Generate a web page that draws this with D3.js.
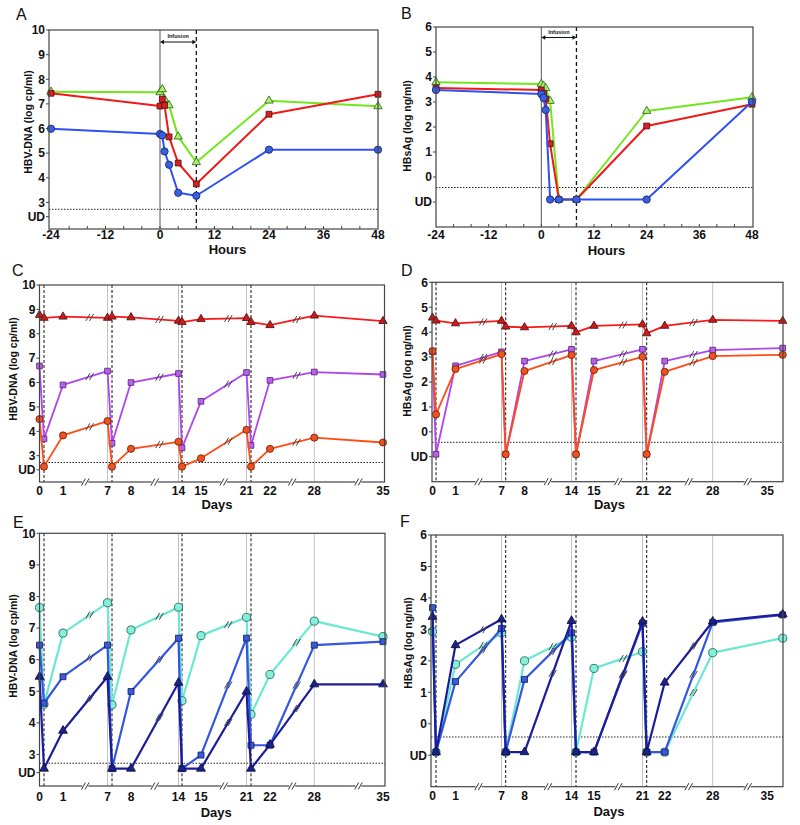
<!DOCTYPE html>
<html><head><meta charset="utf-8">
<script src="https://cdn.jsdelivr.net/npm/d3@7"></script>
<style>body{margin:0;background:#fff} svg{display:block} text{font-family:"Liberation Sans",Arial,sans-serif}</style>
</head><body><svg id="c" width="800" height="825"></svg>
<script>
// ---------------- data ----------------
const UD_DNA = 2.55, UD_HBS = -0.9;          // plotted level of undetectable samples
const LOD_DNA = 2.72, LOD_HBS = -0.42;       // detection limit (dotted line)
const UD_TICK_DNA = 2.42, UD_TICK_HBS = -1.0;

const hours = [-24, 0, 0.5, 1, 2, 4, 8, 24, 48];
const hourTicks = [-24, -12, 0, 12, 24, 36, 48];
const infusionHours = [0, 8];
const dnaTicks = [3, 4, 5, 6, 7, 8, 9, 10];
const hbsTicks = [0, 1, 2, 3, 4, 5, 6];

const aGreen = [7.49, 7.47, 7.59, 7.19, 6.94, 5.67, 4.63, 7.13, 6.90];
const aRed   = [7.43, 6.91, 7.19, 6.94, 5.66, 4.60, 3.75, 6.58, 7.39];
const aBlue  = [5.99, 5.78, 5.72, 5.07, 4.53, 3.39, 3.27, 5.14, 5.14];

const bGreen = [3.79, 3.72, 3.64, 3.55, 3.04, UD_HBS, UD_HBS, 2.64, 3.19];
const bRed   = [3.56, 3.48, 3.35, 3.12, 1.33, UD_HBS, UD_HBS, 2.04, 2.91];
const bBlue  = [3.48, 3.32, 3.17, 2.68, UD_HBS, UD_HBS, UD_HBS, UD_HBS, 3.01];

const third = 1 / 3;
const daysL = [0, third, 1, 7, 7 + third, 8, 14, 14 + third, 15, 21, 21 + third, 22, 28, 35];
const daysR = [0, third, 1, 7, 7 + third, 8, 14, 14 + third, 15, 21, 21 + third, 22, 28, 37];
const dayTicks = [0, 1, 7, 8, 14, 15, 21, 22, 28, 35];
const doseDays = [7, 14, 21, 28];
const endInfusionDays = [third, 7 + third, 14 + third, 21 + third];
const axisBreakDays = [4, 11, 18, 25, 32.5];

const cRed    = [8.77, 8.65, 8.70, 8.65, 8.70, 8.67, 8.53, 8.48, 8.60, 8.64, 8.48, 8.35, 8.74, 8.52];
const cPurple = [6.68, 3.69, 5.90, 6.47, 3.51, 6.00, 6.37, 3.32, 5.23, 6.41, 3.42, 6.09, 6.43, 6.33];
const cOrange = [4.50, UD_DNA, 3.83, 4.42, UD_DNA, 3.28, 3.57, UD_DNA, 2.89, 4.06, UD_DNA, 3.28, 3.74, 3.54];

const dRed    = [4.58, 4.46, 4.35, 4.45, 4.22, 4.19, 4.25, 3.99, 4.25, 4.31, 3.95, 4.25, 4.49, 4.45];
const dPurple = [3.22, UD_HBS, 2.65, 3.21, UD_HBS, 2.84, 3.31, UD_HBS, 2.84, 3.31, UD_HBS, 2.84, 3.28, 3.36];
const dOrange = [3.24, 0.70, 2.52, 3.12, UD_HBS, 2.44, 3.08, UD_HBS, 2.48, 3.01, UD_HBS, 2.41, 3.04, 3.09];

const eCyan = [7.65, 4.59, 6.84, 7.80, 4.57, 6.94, 7.66, 4.70, 6.76, 7.34, 4.27, 5.53, 7.22, 6.73];
const eBlue = [6.46, 4.62, 5.46, 6.46, UD_DNA, 4.99, 6.68, UD_DNA, 2.98, 6.68, 3.29, 3.29, 6.46, 6.57];
const eNavy = [5.46, UD_DNA, 3.75, 5.46, UD_DNA, UD_DNA, 5.27, UD_DNA, UD_DNA, 4.99, UD_DNA, 3.31, 5.22, 5.22];

const fCyan = [2.93, UD_HBS, 1.89, 2.89, UD_HBS, 2.00, 2.75, UD_HBS, 1.76, 2.29, UD_HBS, UD_HBS, 2.26, 2.72];
const fBlue = [3.69, UD_HBS, 1.34, 3.03, UD_HBS, 1.41, 2.89, UD_HBS, UD_HBS, 3.19, UD_HBS, UD_HBS, 3.22, 3.46];
const fNavy = [3.40, UD_HBS, 2.50, 3.32, UD_HBS, UD_HBS, 3.27, UD_HBS, UD_HBS, 3.25, UD_HBS, 1.31, 3.25, 3.48];

// ---------------- styles ----------------
const ST = {
  green:  {line: "#72e61c", fill: "#a8f26a", stroke: "#2c5a10", shape: d3.symbolTriangle, size: 30},
  red:    {line: "#f01818", fill: "#d82020", stroke: "#4a0c0c", shape: d3.symbolSquare, size: 34},
  blue:   {line: "#3050f0", fill: "#3a60e2", stroke: "#14206a", shape: d3.symbolCircle, size: 42},
  cRed:   {line: "#f81a1a", fill: "#c81c1c", stroke: "#4a0a0a", shape: d3.symbolTriangle, size: 30},
  purple: {line: "#b044ee", fill: "#b862ec", stroke: "#4a2070", shape: d3.symbolSquare, size: 32},
  orange: {line: "#ff4c16", fill: "#ee5222", stroke: "#6a1a00", shape: d3.symbolCircle, size: 40},
  cyan:   {line: "#6ae8d2", fill: "#84f0da", stroke: "#1a5a50", shape: d3.symbolCircle, size: 52},
  mblue:  {line: "#3456e0", fill: "#3a5ad8", stroke: "#101e60", shape: d3.symbolSquare, size: 36},
  navy:   {line: "#1c1c9a", fill: "#1c2288", stroke: "#080838", shape: d3.symbolTriangle, size: 34}
};

const svg = d3.select("#c");

function breakGlyph(g, cx, cy, col) {
  [-1.8, 1.8].forEach(dx => {
    g.append("line").attr("x1", cx + dx - 2).attr("y1", cy + 3.5).attr("x2", cx + dx + 2).attr("y2", cy - 3.5)
      .attr("stroke", col || "#333").attr("stroke-width", 1);
  });
}

function drawPanel(p) {
  const g = svg.append("g");
  const x = p.x, y = p.y;
  const L = p.frame[0], R = p.frame[1], T = p.frame[2], B = p.frame[3];

  (p.grey || []).forEach(d => g.append("line").attr("x1", x(d)).attr("x2", x(d)).attr("y1", T).attr("y2", B)
      .attr("stroke", "#c2c2c2").attr("stroke-width", 1));
  (p.solid || []).forEach(d => g.append("line").attr("x1", x(d)).attr("x2", x(d)).attr("y1", T).attr("y2", B)
      .attr("stroke", "#555").attr("stroke-width", 1));
  (p.dashed || []).forEach(d => g.append("line").attr("x1", x(d)).attr("x2", x(d)).attr("y1", T).attr("y2", B)
      .attr("stroke", "#111").attr("stroke-width", p.dashW || 1).attr("stroke-dasharray", p.dashA || "3,2"));
  g.append("line").attr("x1", L).attr("x2", R).attr("y1", y(p.lod)).attr("y2", y(p.lod))
    .attr("stroke", "#222").attr("stroke-width", 1).attr("stroke-dasharray", "1.5,1.5");

  p.series.forEach(s => {
    const st = ST[s.style];
    const pts = s.x.map((d, i) => [x(d), y(s.y[i])]);
    g.append("path").attr("d", d3.line()(pts)).attr("fill", "none").attr("stroke", st.line)
      .attr("stroke-width", p.lw || 2).attr("stroke-linejoin", "round");
    if (p.lineBreaks) {
      p.lineBreaks.forEach(i => {
        const a = pts[i], b = pts[i + 1], f = 0.6;
        breakGlyph(g, a[0] + (b[0] - a[0]) * f, a[1] + (b[1] - a[1]) * f, "#444");
      });
    }
    g.selectAll(null).data(pts).enter().append("path")
      .attr("d", d3.symbol().type(st.shape).size(st.size))
      .attr("transform", d => `translate(${d[0]},${d[1]})`)
      .attr("fill", st.fill).attr("stroke", st.stroke).attr("stroke-width", 0.8);
  });

  g.append("rect").attr("x", L).attr("y", T).attr("width", R - L).attr("height", B - T)
    .attr("fill", "none").attr("stroke", "#444").attr("stroke-width", 1.2);

  const yt = p.yTicks.map(v => ({v, t: String(v)})).concat([{v: p.udTick, t: "UD"}]);
  yt.forEach(d => {
    g.append("line").attr("x1", L - 3).attr("x2", L).attr("y1", y(d.v)).attr("y2", y(d.v)).attr("stroke", "#444");
    g.append("text").attr("x", L - 4).attr("y", y(d.v)).attr("dy", "0.36em").attr("text-anchor", "end")
      .attr("font-size", 12).attr("font-weight", "bold").attr("fill", "#111").text(d.t);
  });
  (p.minor || []).forEach(v => g.append("line").attr("x1", x(v)).attr("x2", x(v)).attr("y1", B).attr("y2", B - 3)
      .attr("stroke", "#444"));
  p.xTicks.forEach(v => g.append("text").attr("x", x(v)).attr("y", B + p.xLabDy).attr("dy", "0.36em")
      .attr("text-anchor", "middle").attr("font-size", 12).attr("font-weight", "bold").attr("fill", "#111").text(v));
  (p.axisBreaks || []).forEach(v => {
    g.append("rect").attr("x", x(v) - 3).attr("y", B - 1).attr("width", 6).attr("height", 2).attr("fill", "#fff");
    breakGlyph(g, x(v), B, "#333");
  });
  g.append("text").attr("x", (L + R) / 2 + (p.xtDx || 0)).attr("y", p.xtY).attr("dy", "0.36em").attr("text-anchor", "middle")
    .attr("font-size", 13).attr("font-weight", "bold").attr("fill", "#111").text(p.xTitle);
  g.append("text").attr("transform", `translate(${p.ytX},${p.ytY}) rotate(-90)`).attr("dy", "0.36em")
    .attr("text-anchor", "middle").attr("font-size", 10.5).attr("font-weight", "bold").attr("fill", "#111").text(p.yTitle);
  g.append("text").attr("x", p.letter[1]).attr("y", p.letter[2]).attr("font-size", 16).attr("fill", "#111").text(p.letter[0]);

  if (p.infusion) {
    const [h0, h1] = infusionHours, ay = p.infusion.y;
    const x0 = x(h0), x1 = x(h1);
    g.append("line").attr("x1", x0 + 3).attr("x2", x1 - 3).attr("y1", ay).attr("y2", ay).attr("stroke", "#111").attr("stroke-width", 1);
    g.append("path").attr("d", `M${x0},${ay}l4,-2.2v4.4z M${x1},${ay}l-4,-2.2v4.4z`).attr("fill", "#111");
    g.append("text").attr("x", (x0 + x1) / 2).attr("y", ay - 4).attr("text-anchor", "middle")
      .attr("font-size", 5.5).attr("font-weight", "bold").attr("fill", "#111").text("Infusion");
  }
}

const minorHours = d3.range(-20, 48, 4);
const breakIdx = [2, 5, 8, 11];

drawPanel({
  frame: [49, 378, 30, 229],
  x: d3.scaleLinear().domain([-24, 48]).range([51, 378]),
  y: d3.scaleLinear().domain([1.92, 10]).range([229, 30]),
  yTicks: dnaTicks, udTick: UD_TICK_DNA, lod: LOD_DNA,
  xTicks: hourTicks, minor: minorHours, xLabDy: 6, xTitle: "Hours", xtY: 249, xtDx: 14,
  yTitle: "HBV-DNA (log cp/ml)", ytX: 28, ytY: 122, letter: ["A", 16, 20],
  solid: [0], dashed: [8], dashW: 1.3, dashA: "4,3", infusion: {y: 42},
  series: [{style: "green", x: hours, y: aGreen}, {style: "red", x: hours, y: aRed}, {style: "blue", x: hours, y: aBlue}]
});
drawPanel({
  frame: [436, 753, 27, 227],
  x: d3.scaleLinear().domain([-24, 48]).range([436, 752]),
  y: d3.scaleLinear().domain([-2, 6]).range([227, 27]),
  yTicks: hbsTicks, udTick: UD_TICK_HBS, lod: LOD_HBS,
  xTicks: hourTicks, minor: minorHours, xLabDy: 8, xTitle: "Hours", xtY: 250, xtDx: 12,
  yTitle: "HBsAg (log ng/ml)", ytX: 407, ytY: 126, letter: ["B", 401, 19],
  solid: [0], dashed: [8], dashW: 1.3, dashA: "4,3", infusion: {y: 37.5},
  series: [{style: "green", x: hours, y: bGreen}, {style: "red", x: hours, y: bRed}, {style: "blue", x: hours, y: bBlue}]
});

const xLeft = () => d3.scaleLinear().domain(daysL)
  .range([39.5, 44, 63, 107.5, 112, 131, 178.5, 182, 201, 246.5, 251, 270, 314.3, 383]);
const xRight = () => d3.scaleLinear().domain(daysR)
  .range([432.5, 436, 455.5, 501.5, 505.7, 524.5, 571.5, 576, 594, 642.5, 646.7, 664.7, 712.7, 782.7]);

drawPanel({
  frame: [39.5, 384.5, 285, 482],
  x: xLeft(), y: d3.scaleLinear().domain([1.92, 10]).range([482, 285]),
  yTicks: dnaTicks, udTick: UD_TICK_DNA, lod: LOD_DNA,
  xTicks: dayTicks, xLabDy: 8.5, xTitle: "Days", xtY: 504, xtDx: 5,
  yTitle: "HBV-DNA (log cp/ml)", ytX: 13, ytY: 369, letter: ["C", 12, 276],
  grey: doseDays, dashed: endInfusionDays, axisBreaks: axisBreakDays, lineBreaks: breakIdx, lw: 1.8,
  series: [{style: "cRed", x: daysL, y: cRed}, {style: "purple", x: daysL, y: cPurple}, {style: "orange", x: daysL, y: cOrange}]
});
drawPanel({
  frame: [432, 783, 282.3, 481.7],
  x: xRight(), y: d3.scaleLinear().domain([-2, 6]).range([481.7, 282.3]),
  yTicks: hbsTicks, udTick: UD_TICK_HBS, lod: LOD_HBS,
  xTicks: dayTicks, xLabDy: 8.5, xTitle: "Days", xtY: 504, xtDx: 2,
  yTitle: "HBsAg (log ng/ml)", ytX: 407, ytY: 371, letter: ["D", 401, 276],
  grey: doseDays, dashed: endInfusionDays, axisBreaks: axisBreakDays, lineBreaks: breakIdx, lw: 1.8,
  series: [{style: "cRed", x: daysR, y: dRed}, {style: "purple", x: daysR, y: dPurple}, {style: "orange", x: daysR, y: dOrange}]
});
drawPanel({
  frame: [39.5, 385, 533.3, 786],
  x: xLeft(), y: d3.scaleLinear().domain([2, 10]).range([786, 533.3]),
  yTicks: dnaTicks, udTick: UD_TICK_DNA, lod: LOD_DNA,
  xTicks: dayTicks, xLabDy: 11, xTitle: "Days", xtY: 812, xtDx: 4,
  yTitle: "HBV-DNA (log cp/ml)", ytX: 13, ytY: 646, letter: ["E", 13, 528],
  grey: doseDays, dashed: endInfusionDays, axisBreaks: axisBreakDays, lineBreaks: breakIdx, lw: 2.2,
  series: [{style: "cyan", x: daysL, y: eCyan}, {style: "mblue", x: daysL, y: eBlue}, {style: "navy", x: daysL, y: eNavy}]
});
drawPanel({
  frame: [431, 783, 535, 786.7],
  x: xRight(), y: d3.scaleLinear().domain([-2, 6]).range([786.7, 535]),
  yTicks: hbsTicks, udTick: UD_TICK_HBS, lod: LOD_HBS,
  xTicks: dayTicks, xLabDy: 9, xTitle: "Days", xtY: 811, xtDx: 2,
  yTitle: "HBsAg (log ng/ml)", ytX: 408, ytY: 643, letter: ["F", 400, 527],
  grey: doseDays, dashed: endInfusionDays, axisBreaks: axisBreakDays, lineBreaks: breakIdx, lw: 2.2,
  series: [{style: "cyan", x: daysR, y: fCyan}, {style: "mblue", x: daysR, y: fBlue}, {style: "navy", x: daysR, y: fNavy}]
});
</script></body></html>
